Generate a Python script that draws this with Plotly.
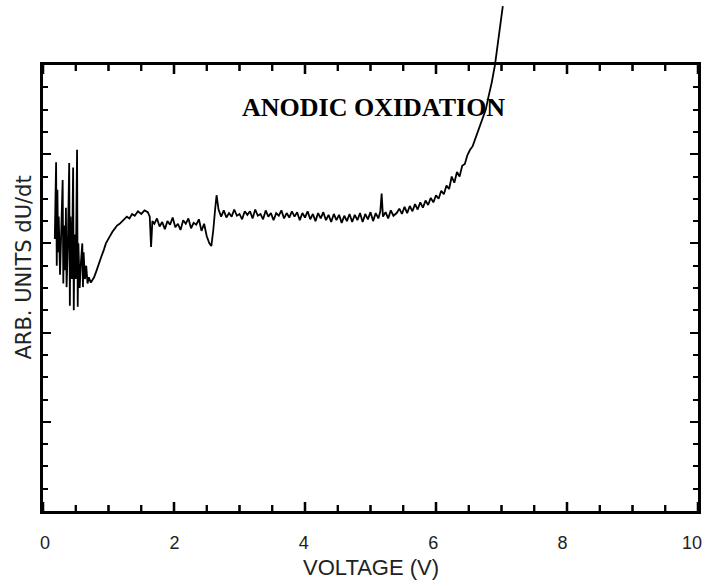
import plotly.graph_objects as go

# ---- data ----
voltage = [
    0.18, 0.20, 0.21, 0.22, 0.23, 0.24, 0.26, 0.28, 0.30, 0.31, 0.32, 0.34, 0.35, 0.36, 0.38,
    0.40, 0.41, 0.42, 0.44, 0.46, 0.47, 0.48, 0.50, 0.52, 0.53, 0.54, 0.56, 0.58, 0.60, 0.61,
    0.62, 0.64, 0.66, 0.68, 0.70, 0.73,
    0.78, 0.82, 0.86, 0.89, 0.93, 0.96, 0.99, 1.03, 1.06, 1.09, 1.13, 1.17, 1.21, 1.24, 1.28,
    1.32, 1.36, 1.40, 1.45, 1.50, 1.55, 1.60, 1.63, 1.65, 1.67, 1.70,
    1.74, 1.78, 1.82, 1.86, 1.90, 1.94, 1.98, 2.02, 2.06, 2.10, 2.14, 2.18, 2.22, 2.26, 2.30,
    2.34, 2.38, 2.42, 2.46, 2.50, 2.54, 2.57, 2.60, 2.63, 2.65, 2.68, 2.72,
    2.76, 2.80, 2.84, 2.88, 2.92, 2.96, 3.00, 3.04, 3.08, 3.12, 3.16, 3.20, 3.24, 3.28, 3.32,
    3.36, 3.40, 3.44, 3.48, 3.52, 3.56, 3.60, 3.64, 3.68, 3.72, 3.76, 3.80, 3.84, 3.88, 3.92,
    3.96, 4.00, 4.04, 4.08, 4.12, 4.16, 4.20, 4.24, 4.28, 4.32, 4.36, 4.40, 4.44, 4.48, 4.52,
    4.56, 4.60, 4.64, 4.68, 4.72, 4.76, 4.80, 4.84, 4.88, 4.92, 4.96, 5.00, 5.04, 5.08, 5.12,
    5.15, 5.17, 5.19, 5.23, 5.27, 5.31, 5.35,
    5.40, 5.44, 5.48, 5.52, 5.56, 5.60, 5.64, 5.68, 5.72, 5.76, 5.80, 5.84, 5.88, 5.92, 5.96,
    6.00, 6.04, 6.08, 6.12, 6.16, 6.20, 6.24, 6.28, 6.32, 6.36, 6.40, 6.44, 6.48, 6.52, 6.56,
    6.60, 6.64, 6.68, 6.72, 6.76, 6.80, 6.85, 6.90, 6.95, 7.00, 7.02,
]
dudt = [
    3.05, 3.91, 2.75, 3.60, 2.90, 3.30, 2.65, 3.10, 3.71, 2.55, 3.20, 2.70, 3.40, 2.51, 3.00,
    3.90, 2.30, 3.30, 2.60, 3.85, 2.25, 3.10, 2.60, 4.05, 2.29, 3.00, 2.50, 2.80, 3.00, 2.51,
    2.90, 2.60, 2.75, 2.55, 2.62, 2.56,
    2.62, 2.70, 2.80, 2.85, 2.93, 3.00, 3.04, 3.10, 3.13, 3.16, 3.20, 3.22, 3.25, 3.27, 3.30,
    3.28, 3.33, 3.31, 3.36, 3.33, 3.37, 3.35, 3.30, 2.96, 3.25, 3.22,
    3.28, 3.19, 3.24, 3.16, 3.25, 3.21, 3.29, 3.18, 3.22, 3.15, 3.26, 3.22, 3.28, 3.17, 3.23,
    3.21, 3.27, 3.14, 3.22, 3.08, 3.00, 2.97, 3.15, 3.40, 3.54, 3.38, 3.30,
    3.37, 3.29, 3.34, 3.30, 3.38, 3.31, 3.33, 3.27, 3.36, 3.32, 3.36, 3.28, 3.38, 3.31, 3.33,
    3.27, 3.37, 3.30, 3.34, 3.26, 3.34, 3.31, 3.37, 3.28, 3.34, 3.29, 3.36, 3.30, 3.35, 3.26,
    3.34, 3.29, 3.36, 3.27, 3.33, 3.25, 3.34, 3.28, 3.35, 3.26, 3.32, 3.24, 3.33, 3.26, 3.32,
    3.23, 3.31, 3.25, 3.33, 3.24, 3.32, 3.26, 3.34, 3.24, 3.33, 3.27, 3.35, 3.25, 3.34, 3.28,
    3.36, 3.56, 3.30, 3.35, 3.28, 3.37, 3.31,
    3.34, 3.39, 3.33, 3.41, 3.34, 3.42, 3.36, 3.44, 3.38, 3.46, 3.40, 3.48, 3.43, 3.51, 3.46,
    3.54, 3.50, 3.59, 3.55, 3.65, 3.61, 3.75, 3.68, 3.80, 3.75, 3.87, 3.89, 3.99, 4.05, 4.09,
    4.17, 4.24, 4.32, 4.40, 4.50, 4.64, 4.80, 5.00, 5.28, 5.55, 5.66,
]

x_range = [0, 10]
x_major_ticks = [0, 2, 4, 6, 8, 10]
x_minor_ticks = [0.5, 1, 1.5, 2.5, 3, 3.5, 4.5, 5, 5.5, 6.5, 7, 7.5, 8.5, 9, 9.5]
y_range = [0, 5]
y_major = 1
y_minor = 0.25

# ---- layout geometry ----
W, H = 705, 584
m_l, m_r, m_t, m_b = 43, 7, 2, 73
plot_w = W - m_l - m_r
plot_h = H - m_t - m_b
frame_px = 446                      # frame height in pixels
frame_frac = frame_px / plot_h      # fraction of plot height taken by the framed axes
y2_top = y_range[1] / frame_frac    # curve axis extends above the frame (same scale)
px_per_unit = frame_px / (y_range[1] - y_range[0])

fig = go.Figure()
# invisible traces to register the frame subplot and the tick-label axis
fig.add_trace(go.Scatter(x=[None], y=[None], xaxis="x", yaxis="y", showlegend=False))
fig.add_trace(go.Scatter(x=[None], y=[None], xaxis="x3", yaxis="y", showlegend=False))

# inward x ticks on the bottom and top of the frame, drawn on the curve's axes
tick_shapes = []
for vals, length_px, width in ((x_major_ticks, 9, 2.2), (x_minor_ticks, 6, 1.8)):
    tl = length_px / px_per_unit
    tx, ty = [], []
    mx, my = [], []
    for v in vals:
        tx += [v, v, None, v, v, None]
        ty += [y_range[0], y_range[0] + tl, None, y_range[1], y_range[1] - tl, None]
        mx += [v, v]
        my += [y_range[0] + tl / 2, y_range[1] - tl / 2]
        for y_edge, sign in ((0.0, 1), (frame_frac, -1)):
            tick_shapes.append(dict(
                type="line", xref="x2", yref="paper",
                x0=v, x1=v, y0=y_edge, y1=y_edge + sign * length_px / plot_h,
                line=dict(color="black", width=width), layer="above",
            ))
    fig.add_trace(go.Scatter(
        x=tx, y=ty, mode="lines", line=dict(color="black", width=width, simplify=False),
        connectgaps=False, xaxis="x2", yaxis="y2", showlegend=False, hoverinfo="skip",
    ))
    fig.add_trace(go.Scatter(
        x=mx, y=my, mode="markers",
        marker=dict(symbol="line-ns", size=length_px / 1.4, color="black",
                    line=dict(color="black", width=width)),
        xaxis="x2", yaxis="y2", showlegend=False, hoverinfo="skip", cliponaxis=False,
    ))

fig.add_trace(go.Scatter(
    x=voltage, y=dudt, mode="lines",
    line=dict(color="black", width=1.8),
    xaxis="x2", yaxis="y2", showlegend=False, hoverinfo="skip",
))

axis_font = dict(family="Liberation Sans, Arial", size=18, color="#222")

fig.update_layout(
    width=W, height=H,
    margin=dict(l=m_l, r=m_r, t=m_t, b=m_b, autoexpand=False),
    paper_bgcolor="white", plot_bgcolor="rgba(0,0,0,0)",
    shapes=tick_shapes,
    xaxis=dict(
        range=x_range, anchor="y", domain=[0, 1],
        showticklabels=False, ticks="",
        showline=True, linecolor="black", linewidth=2.5, mirror=True,
        showgrid=False, zeroline=False,
    ),
    # tick-label axis (labels only, pushed down by transparent outside ticks)
    xaxis3=dict(
        range=x_range, anchor="y", domain=[2 / plot_w, 649 / plot_w],
        tickmode="array", tickvals=x_major_ticks,
        ticks="outside", ticklen=15, tickcolor="rgba(0,0,0,0)",
        showline=False, showgrid=False, zeroline=False,
        tickfont=axis_font, ticklabeloverflow="allow",
    ),
    yaxis=dict(
        range=y_range, domain=[0, frame_frac], anchor="x",
        tickmode="linear", tick0=0, dtick=y_major, showticklabels=False,
        ticks="inside", ticklen=8, tickwidth=2, tickcolor="black",
        minor=dict(dtick=y_minor, ticks="inside", ticklen=5, tickwidth=1.5, tickcolor="black"),
        showline=True, linecolor="black", linewidth=2.5, mirror="ticks",
        showgrid=False, zeroline=False,
    ),
    xaxis2=dict(range=x_range, domain=[0, 1], anchor="y2", visible=False,
                showgrid=False, zeroline=False),
    yaxis2=dict(range=[0, y2_top], domain=[0, 1], anchor="x2", visible=False,
                showgrid=False, zeroline=False),
    annotations=[
        dict(text="<b>ANODIC OXIDATION</b>", x=5.05, y=4.52, xref="x", yref="y",
             showarrow=False, font=dict(family="Liberation Serif, Times New Roman", size=26, color="black")),
        dict(text="ARB. UNITS dU/dt", x=(23 - m_l) / plot_w, y=(511 - 267.5) / plot_h,
             xref="paper", yref="paper", textangle=-90, showarrow=False,
             xanchor="center", yanchor="middle",
             font=dict(family="DejaVu Sans", size=21, color="#222")),
        dict(text="VOLTAGE (V)", x=0.5, y=(511 - 567) / plot_h,
             xref="paper", yref="paper", showarrow=False,
             xanchor="center", yanchor="middle",
             font=dict(family="Liberation Sans, Arial", size=22, color="#222")),
    ],
)

fig.write_html(
    "out.html",
    config={"displayModeBar": False},
    post_script="document.body.style.margin='0';document.body.style.overflow='hidden';",
)
